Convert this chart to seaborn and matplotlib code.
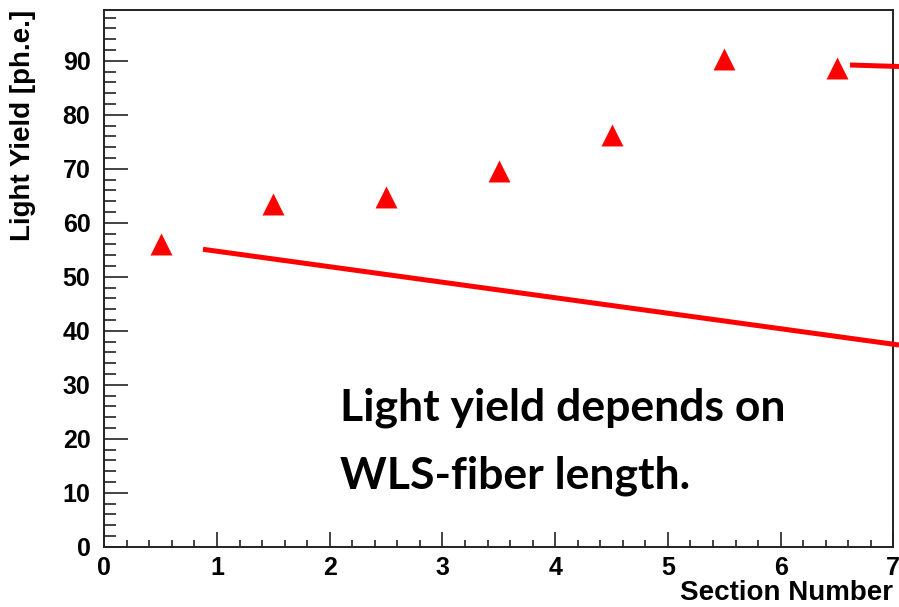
import matplotlib
matplotlib.use("Agg")
import matplotlib.pyplot as plt
import seaborn as sns
import pandas as pd
from matplotlib.ticker import MultipleLocator
from matplotlib.lines import Line2D

# ---- data ----
section = [0.5, 1.5, 2.5, 3.5, 4.5, 5.5, 6.5]
light_yield = [56.1, 63.4, 64.8, 69.6, 76.2, 90.4, 88.6]
x_ticks = [0, 1, 2, 3, 4, 5, 6, 7]
y_ticks = [0, 10, 20, 30, 40, 50, 60, 70, 80, 90]
x_label = "Section Number"
y_label = "Light Yield [ph.e.]"
note_lines = ["Light yield depends on", "WLS-fiber length."]

df = pd.DataFrame({"section": section, "light_yield": light_yield})

sns.set_style("white")
plt.rcParams["font.family"] = ["Liberation Sans", "DejaVu Sans"]
plt.rcParams["text.color"] = "black"
plt.rcParams["axes.labelcolor"] = "black"
plt.rcParams["xtick.color"] = "#222222"
plt.rcParams["ytick.color"] = "#222222"
plt.rcParams["xtick.labelcolor"] = "black"
plt.rcParams["ytick.labelcolor"] = "black"

W, H = 899, 607
fig = plt.figure(figsize=(W / 100, H / 100), dpi=100)
left, right, top, bottom = 104.3, 893.3, 10.0, 546.7
ax = fig.add_axes([left / W, 1 - bottom / H, (right - left) / W, (bottom - top) / H])

sns.scatterplot(data=df, x="section", y="light_yield", marker="^",
                s=15.8 ** 2, color="#ff0000", linewidth=0, ax=ax, legend=False,
                zorder=3)

ax.set_xlim(0, 7)
ax.set_ylim(0, 99.4)
ax.set_xticks(x_ticks)
ax.set_yticks(y_ticks)
ax.xaxis.set_minor_locator(MultipleLocator(0.2))
ax.yaxis.set_minor_locator(MultipleLocator(2))

for sp in ax.spines.values():
    sp.set_visible(True)
    sp.set_color("#222222")
    sp.set_linewidth(1.4)

ax.tick_params(bottom=True, left=True, top=False, right=False, which="both")
ax.tick_params(axis="x", which="major", direction="in", length=10.8, width=1.2,
               color="#222222", pad=7, labelsize=18, labelcolor="black")
ax.tick_params(axis="x", which="minor", direction="in", length=5, width=1.2,
               color="#222222")
ax.tick_params(axis="y", which="major", direction="in", length=17, width=1.2,
               color="#222222", pad=10, labelsize=18, labelcolor="black")
ax.tick_params(axis="y", which="minor", direction="in", length=8.7, width=1.2,
               color="#222222")
for lab in ax.get_xticklabels() + ax.get_yticklabels():
    lab.set_fontweight("bold")

ax.set_xlabel(x_label, fontsize=20, fontweight="bold", loc="right", color="black")
ax.set_ylabel(y_label, fontsize=20, fontweight="bold", loc="top", color="black")
ax.xaxis.set_label_coords(1.0, (bottom - 580) / (bottom - top))
ax.yaxis.set_label_coords((36 - left) / (right - left), 1.0)

# slide annotation text
for txt, base in zip(note_lines, [420, 488]):
    ax.text((340 - left) / (right - left), (bottom - base) / (bottom - top), txt,
            transform=ax.transAxes, fontsize=32, fontweight="bold", color="black",
            family=["Lato", "DejaVu Sans"], va="baseline", ha="left")

# slide overlay red lines
fig.add_artist(Line2D([203 / W, 1.0], [1 - 249.3 / H, 1 - 345 / H],
                      transform=fig.transFigure, color="#ff0000", lw=3.6,
                      solid_capstyle="butt"))
fig.add_artist(Line2D([850 / W, 1.0], [1 - 65 / H, 1 - 66.5 / H],
                      transform=fig.transFigure, color="#ff0000", lw=3.6,
                      solid_capstyle="butt"))

fig.savefig("out.png", dpi=100)
